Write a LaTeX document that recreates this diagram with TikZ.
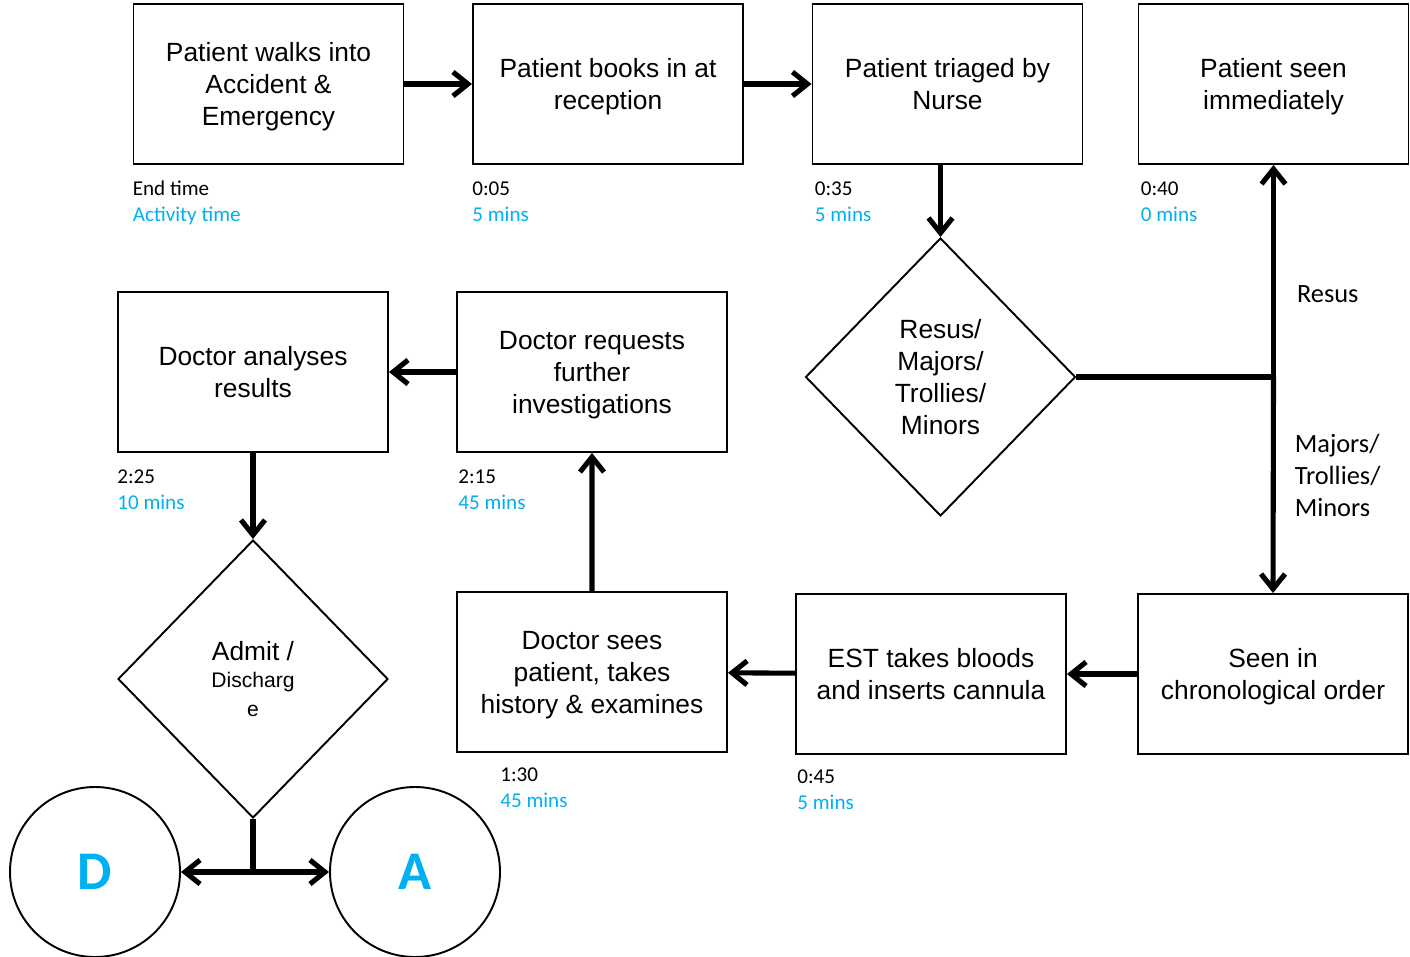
\documentclass[tikz,border=0pt]{standalone}
\usepackage{fontspec}
\setmainfont{Liberation Sans}
\newfontfamily\calibri{Carlito}
\usepackage{xcolor}
\usetikzlibrary{shapes.geometric,arrows.meta,positioning}
\definecolor{actblue}{HTML}{00B0F0}

\begin{document}
\begin{tikzpicture}[
        node distance=6.79cm,
        process/.style={rectangle, draw, line width=1.1pt, minimum width=5.4cm, minimum height=3.2cm, align=center, text depth=0pt, font=\fontsize{15}{18.2}\selectfont},
        decision/.style={diamond, draw, line width=1.1pt, minimum width=5.4cm, minimum height=5.56cm, inner sep=0pt, align=center, font=\fontsize{15}{18.2}\selectfont},
        outcome/.style={circle, draw, line width=1.1pt, minimum size=3.4cm, font=\calibri\bfseries\fontsize{31}{36}\selectfont, text=actblue},
        timing/.style={anchor=north west, inner sep=0pt, align=left, font=\calibri\fontsize{12}{14.8}\selectfont},
        branch/.style={inner sep=0pt, align=left, font=\calibri\fontsize{15}{18.2}\selectfont},
        flow/.style={line width=2.9pt},
        >={Straight Barb[length=0.3cm, width=0.48cm]}
    ]
        \useasboundingbox (0,0) rectangle (28.2,-19.14);

        % top row
        \node[process] (walk) at (5.37,-1.68) {Patient walks into\\Accident \&\\Emergency};
        \node[process, right of=walk] (book) {Patient books in at\\reception};
        \node[process, right of=book] (triage) {Patient triaged by\\Nurse};
        \node[process, right of=triage, node distance=6.52cm] (immediate) {Patient seen\\immediately};
        \node[decision, below of=triage, node distance=5.86cm, xshift=-0.14cm] (stream) {Resus/\\Majors/\\Trollies/\\Minors};

        % middle row
        \node[process] (request) at (11.84,-7.44) {Doctor requests\\further\\investigations};
        \node[process, left of=request, node distance=6.78cm] (analyse) {Doctor analyses\\results};
        \node[decision, below of=analyse, node distance=6.14cm] (admit) {Admit /\\[-3pt]{\fontsize{12}{14.5}\selectfont Discharg}\\[-2pt]{\fontsize{12}{14.5}\selectfont e}};

        % bottom row
        \node[process] (chrono) at (25.46,-13.48) {Seen in\\chronological order};
        \node[process, left of=chrono, node distance=6.84cm] (bloods) {EST takes bloods\\and inserts cannula};
        \node[process, left of=bloods, node distance=6.78cm, yshift=0.04cm] (history) {Doctor sees\\patient, takes\\history \& examines};
        \node[outcome] (discharge) at (1.9,-17.44) {D};
        \node[outcome, right of=discharge, node distance=6.4cm] (admitted) {A};

        % times
        \node[timing, below right=0.32cm and 0cm of walk.south west] (walkt) {End time\\\textcolor{actblue}{Activity time}};
        \node[timing, below right=0.32cm and 0cm of book.south west] (bookt) {0:05\\\textcolor{actblue}{5 mins}};
        \node[timing, below right=0.32cm and 0.06cm of triage.south west] (triaget) {0:35\\\textcolor{actblue}{5 mins}};
        \node[timing, below right=0.32cm and 0.06cm of immediate.south west] (immediatet) {0:40\\\textcolor{actblue}{0 mins}};
        \node[timing, below right=0.32cm and 0cm of analyse.south west] (analyset) {2:25\\\textcolor{actblue}{10 mins}};
        \node[timing, below right=0.32cm and 0.04cm of request.south west] (requestt) {2:15\\\textcolor{actblue}{45 mins}};
        \node[timing, below right=0.28cm and 0.88cm of history.south west] (historyt) {1:30\\\textcolor{actblue}{45 mins}};
        \node[timing, below right=0.28cm and 0.04cm of bloods.south west] (bloodst) {0:45\\\textcolor{actblue}{5 mins}};

        % connectors
        \draw[flow, ->] (walk) -- (book);
        \draw[flow, ->] (book) -- (triage);
        \draw[flow, ->] (triage.south -| stream.north) -- (stream);
        \coordinate (fork) at (stream.east -| immediate.south);
        \draw[flow] (stream.east) -- (fork);
        \draw[flow, ->] (fork) -- node[branch, pos=0.39, right=0.42cm] {Resus} (immediate.south);
        \draw[flow, ->] (fork) -- node[branch, pos=0.455, right=0.38cm] {Majors/\\Trollies/\\Minors} (chrono.north);
        \draw[flow, ->] (chrono) -- (bloods);
        \draw[flow, ->] (bloods) -- (history);
        \draw[flow, ->] (history) -- (request);
        \draw[flow, ->] (request) -- (analyse);
        \draw[flow, ->] (analyse) -- (admit);
        \coordinate (split) at (admit.south |- discharge.east);
        \draw[flow] (admit.south) -- (split);
        \draw[flow, ->] (split) -- (discharge);
        \draw[flow, ->] (split) -- (admitted);
    \end{tikzpicture}
\end{document}
